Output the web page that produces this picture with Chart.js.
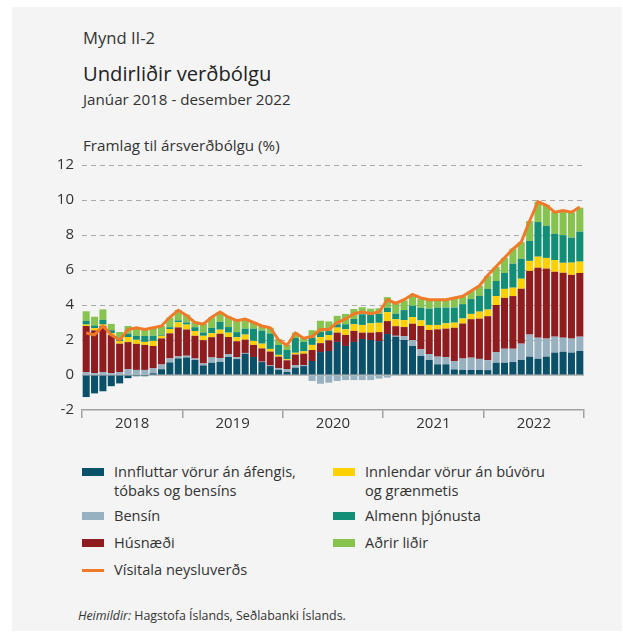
<!DOCTYPE html>
<html>
<head>
<meta charset="utf-8">
<script src="https://cdn.jsdelivr.net/npm/chart.js@4.4.1/dist/chart.umd.min.js"></script>
<style>
  html, body { margin: 0; padding: 0; background: #ffffff; }
  body { width: 623px; height: 635px; position: relative; overflow: hidden; font-family: "Open Sans", "Noto Sans", sans-serif; color: #333; }
  #panel { position: absolute; left: 12px; top: 7px; width: 610px; height: 624px; background: #f4f4f4; }
  .t { position: absolute; white-space: nowrap; }
  #chartWrap { position: absolute; left: 12px; top: 148px; width: 600px; height: 290px; }
  .sw { position: absolute; width: 22px; height: 8px; }
  .lt { position: absolute; font-size: 14.6px; line-height: 19px; color: #333; white-space: nowrap; }
</style>
</head>
<body>
<div id="panel"></div>
<div class="t" style="left:83px; top:27px; font-size:16.6px; line-height:22px; color:#333;">Mynd II-2</div>
<div class="t" style="left:83px; top:60px; font-size:20.2px; line-height:26px; color:#222;">Undirliðir verðbólgu</div>
<div class="t" style="left:83px; top:89px; font-size:15.2px; line-height:21px; color:#333;">Janúar 2018 - desember 2022</div>
<div class="t" style="left:83px; top:135px; font-size:15.2px; line-height:21px; color:#333;">Framlag til ársverðbólgu (%)</div>
<div id="chartWrap"><canvas id="c" width="600" height="290"></canvas></div>
<div id="legend"></div>
<div class="t" style="left:78px; top:606px; font-size:12.4px; line-height:20px; color:#333;"><i>Heimildir:</i> Hagstofa Íslands, Seðlabanki Íslands.</div>
<script>
// ---- Data (contribution to 12-month inflation, percentage points) ----
const months = [];
const yearLabels = ['2018', '2019', '2020', '2021', '2022'];
yearLabels.forEach(y => { for (let m = 1; m <= 12; m++) months.push(y + '-' + String(m).padStart(2, '0')); });

const innfluttar = [
  -1.26, -1.05, -0.93, -0.64, -0.48, -0.18, -0.07, -0.07, 0.10, 0.33, 0.72, 0.95,
  1.00, 0.86, 0.55, 0.70, 0.75, 1.03, 0.91, 1.22, 1.03, 0.74, 0.51, 0.30,
  0.17, 0.42, 0.51, 0.80, 1.31, 1.37, 1.89, 1.66, 1.89, 2.06, 2.00, 1.94,
  2.34, 2.19, 2.00, 1.66, 1.09, 0.86, 0.61, 0.61, 0.32, 0.29, 0.29, 0.29,
  0.28, 0.70, 0.70, 0.74, 0.86, 1.05, 0.93, 1.05, 1.28, 1.33, 1.28, 1.37
];
const bensin = [
  0.17, 0.11, 0.17, 0.11, 0.17, 0.34, 0.29, 0.29, 0.30, 0.27, 0.23, 0.11,
  0.10, 0.08, 0.11, 0.30, 0.22, 0.17, 0.11, 0.04, 0.00, 0.02, 0.03, 0.08,
  0.17, 0.15, 0.06, -0.34, -0.50, -0.44, -0.34, -0.29, -0.29, -0.29, -0.29, -0.21,
  -0.15, 0.05, 0.23, 0.34, 0.38, 0.34, 0.44, 0.42, 0.48, 0.65, 0.70, 0.63,
  0.57, 0.61, 0.80, 0.76, 0.93, 1.26, 1.20, 1.03, 0.91, 0.80, 0.80, 0.82
];
const husnaedi = [
  2.63, 2.44, 2.63, 2.17, 1.62, 1.54, 1.49, 1.43, 1.26, 1.49, 1.43, 1.66,
  1.50, 1.30, 1.33, 1.16, 1.39, 0.97, 0.91, 0.76, 0.69, 0.76, 0.80, 0.67,
  0.50, 0.60, 0.65, 0.63, 0.51, 0.61, 0.53, 0.63, 0.63, 0.36, 0.42, 0.51,
  0.74, 0.55, 0.51, 0.93, 1.33, 1.37, 1.56, 1.62, 1.90, 2.00, 2.20, 2.30,
  2.51, 2.69, 2.91, 3.01, 3.14, 3.64, 4.00, 4.00, 3.71, 3.71, 3.64, 3.64
];
const innlendar = [
  0.08, 0.13, 0.08, 0.11, 0.15, 0.29, 0.23, 0.17, 0.29, 0.15, 0.25, 0.29,
  0.28, 0.27, 0.25, 0.23, 0.23, 0.25, 0.23, 0.29, 0.23, 0.27, 0.15, 0.10,
  0.06, 0.10, 0.13, 0.29, 0.34, 0.30, 0.29, 0.32, 0.38, 0.44, 0.53, 0.53,
  0.51, 0.40, 0.40, 0.38, 0.32, 0.29, 0.25, 0.30, 0.29, 0.29, 0.30, 0.40,
  0.38, 0.51, 0.51, 0.48, 0.57, 0.57, 0.63, 0.61, 0.67, 0.57, 0.70, 0.65
];
const almenn = [
  0.21, 0.15, 0.27, 0.17, 0.10, 0.19, 0.23, 0.34, 0.29, 0.06, 0.10, 0.11,
  0.12, 0.22, 0.19, 0.30, 0.45, 0.32, 0.29, 0.34, 0.70, 0.75, 0.88, 0.57,
  0.53, 0.85, 0.55, 0.42, 0.30, 0.23, 0.19, 0.29, 0.30, 0.61, 0.51, 0.51,
  0.25, 0.32, 0.57, 0.65, 0.72, 0.93, 0.99, 0.90, 0.86, 0.82, 0.85, 0.90,
  1.18, 0.86, 0.91, 1.37, 1.14, 1.14, 1.98, 1.83, 1.50, 1.58, 1.43, 1.71
];
const adrir = [
  0.55, 0.50, 0.60, 0.36, 0.42, 0.44, 0.50, 0.42, 0.50, 0.50, 0.55, 0.60,
  0.45, 0.32, 0.50, 0.60, 0.55, 0.60, 0.63, 0.52, 0.34, 0.29, 0.34, 0.33,
  0.30, 0.30, 0.25, 0.42, 0.64, 0.55, 0.48, 0.59, 0.57, 0.40, 0.33, 0.32,
  0.61, 0.60, 0.55, 0.60, 0.50, 0.50, 0.45, 0.45, 0.52, 0.45, 0.46, 0.57,
  0.75, 0.80, 0.86, 0.86, 0.95, 1.14, 1.16, 1.20, 1.25, 1.40, 1.45, 1.37
];
const visitala = [
  2.4, 2.3, 2.8, 2.3, 2.0, 2.6, 2.7, 2.6, 2.7, 2.8, 3.3, 3.7,
  3.4, 3.0, 2.9, 3.3, 3.6, 3.3, 3.1, 3.2, 3.0, 2.8, 2.7, 2.0,
  1.7, 2.4, 2.1, 2.2, 2.6, 2.6, 3.0, 3.2, 3.5, 3.6, 3.5, 3.6,
  4.3, 4.1, 4.3, 4.6, 4.4, 4.3, 4.3, 4.3, 4.4, 4.5, 4.8, 5.1,
  5.7, 6.2, 6.7, 7.2, 7.6, 8.8, 9.9, 9.7, 9.3, 9.4, 9.3, 9.6
];
const yTicks = [-2, 0, 2, 4, 6, 8, 10, 12];

// ---- Styles ----
const C = {
  navy: '#0b5069', gray: '#97b1c1', red: '#8f1c1f', yellow: '#fdd000',
  teal: '#128e76', green: '#86c34f', orange: '#f07a2a'
};
const series = [
  { label: 'Innfluttar vörur án áfengis, tóbaks og bensíns', data: innfluttar, color: C.navy },
  { label: 'Bensín', data: bensin, color: C.gray },
  { label: 'Húsnæði', data: husnaedi, color: C.red },
  { label: 'Innlendar vörur án búvöru og grænmetis', data: innlendar, color: C.yellow },
  { label: 'Almenn þjónusta', data: almenn, color: C.teal },
  { label: 'Aðrir liðir', data: adrir, color: C.green }
];

const datasets = series.map(s => ({
  type: 'bar', label: s.label, data: s.data, backgroundColor: s.color,
  borderWidth: 0, barPercentage: 0.84, categoryPercentage: 1.0, order: 2,
  xAxisID: 'x', yAxisID: 'y', stack: 'bars'
}));
datasets.push({
  type: 'line', label: 'Vísitala neysluverðs', data: visitala, borderColor: C.orange,
  borderWidth: 3, pointRadius: 0, tension: 0, fill: false, order: 0,
  xAxisID: 'x', yAxisID: 'y', stack: 'line'
});

const zeroLine = {
  id: 'zeroLine',
  beforeDatasetsDraw(chart) {
    const { ctx, chartArea, scales } = chart;
    const y = scales.y.getPixelForValue(0);
    ctx.save();
    ctx.strokeStyle = '#bcbcbc';
    ctx.lineWidth = 2;
    ctx.beginPath();
    ctx.moveTo(chartArea.left, y);
    ctx.lineTo(chartArea.right, y);
    ctx.stroke();
    ctx.restore();
  }
};

new Chart(document.getElementById('c'), {
  data: { labels: months, datasets },
  options: {
    responsive: false, animation: false, devicePixelRatio: 1,
    layout: { padding: { top: 14, right: 28, bottom: 8, left: 0 } },
    plugins: { legend: { display: false }, tooltip: { enabled: false } },
    scales: {
      x: { type: 'category', display: false, stacked: true, offset: true },
      yr: {
        type: 'linear', position: 'bottom', min: 0, max: 60,
        afterBuildTicks(scale) {
          const t = [];
          for (let v = 0; v <= 60; v += 6) t.push({ value: v });
          scale.ticks = t;
        },
        grid: {
          drawOnChartArea: false, drawTicks: true, tickLength: 8, lineWidth: 1.5,
          color: ctx => (ctx.tick && ctx.tick.value % 12 === 0) ? '#a0a0a0' : 'rgba(0,0,0,0)'
        },
        border: { display: true, color: '#a0a0a0', width: 1.5 },
        ticks: {
          autoSkip: false, maxRotation: 0, minRotation: 0, padding: -3,
          color: '#333', font: { family: 'Open Sans', size: 15 },
          callback: v => (v % 12 === 6) ? yearLabels[(v - 6) / 12] : ''
        }
      },
      y: {
        stacked: true, min: -2, max: 12,
        afterBuildTicks(scale) { scale.ticks = yTicks.map(v => ({ value: v })); },
        afterFit(scale) { scale.width = 70; },
        grid: {
          drawTicks: false, lineWidth: 1,
          color: ctx => (ctx.tick && (ctx.tick.value === 0 || ctx.tick.value === -2)) ? 'rgba(0,0,0,0)' : '#ababab'
        },
        border: { display: false, dash: [5, 4] },
        ticks: { padding: 8, color: '#333', font: { family: 'Open Sans', size: 15 } }
      }
    }
  },
  plugins: [zeroLine]
});

// ---- HTML legend ----
const legendItems = [
  { text: 'Innfluttar vörur án áfengis,<br>tóbaks og bensíns', color: C.navy, x: 82, y: 462 },
  { text: 'Innlendar vörur án búvöru<br>og grænmetis', color: C.yellow, x: 333, y: 462 },
  { text: 'Bensín', color: C.gray, x: 82, y: 506 },
  { text: 'Almenn þjónusta', color: C.teal, x: 333, y: 506 },
  { text: 'Húsnæði', color: C.red, x: 82, y: 533 },
  { text: 'Aðrir liðir', color: C.green, x: 333, y: 533 },
  { text: 'Vísitala neysluverðs', color: C.orange, x: 82, y: 560, line: true }
];
const lg = document.getElementById('legend');
legendItems.forEach(it => {
  const sw = document.createElement('div');
  sw.className = 'sw';
  sw.style.left = it.x + 'px';
  sw.style.background = it.color;
  if (it.line) { sw.style.height = '3px'; sw.style.top = (it.y + 9) + 'px'; }
  else { sw.style.top = (it.y + 6) + 'px'; }
  lg.appendChild(sw);
  const t = document.createElement('div');
  t.className = 'lt';
  t.style.left = (it.x + 32) + 'px';
  t.style.top = it.y + 'px';
  t.innerHTML = it.text;
  lg.appendChild(t);
});
</script>
</body>
</html>
